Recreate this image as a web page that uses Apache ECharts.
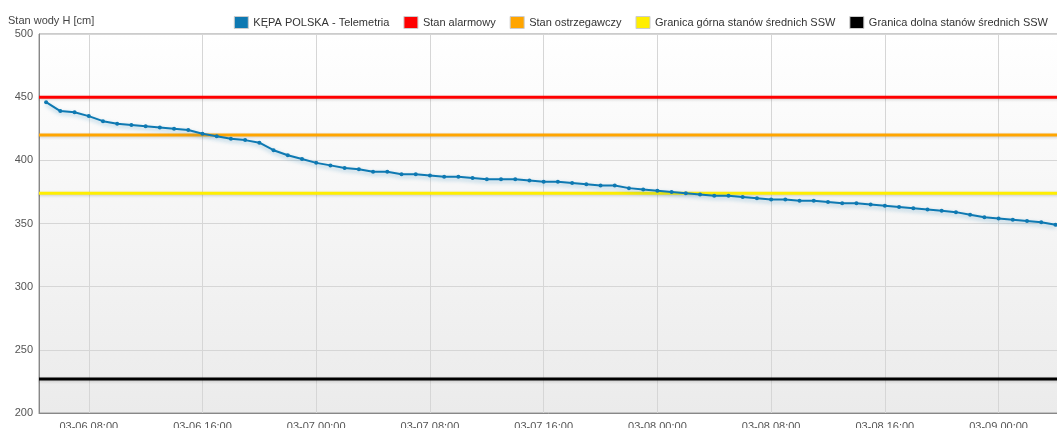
<!DOCTYPE html>
<html>
<head>
<meta charset="utf-8">
<script src="https://cdn.jsdelivr.net/npm/echarts@6/dist/echarts.min.js"></script>
<style>
  html, body { margin: 0; padding: 0; background: #fff; }
  #chart { width: 1057px; height: 428px; }
</style>
</head>
<body>
<div id="chart"></div>
<script>
// hourly readings, first at 03-06 05:00
const startTime = '2024-03-06T05:00:00'
const levels = [
  446, 439, 438, 435, 431, 429, 428, 427, 426, 425, 424, 421, 419, 417, 416, 414, 408, 404, 401,
  398, 396, 394, 393, 391, 391, 389, 389, 388, 387, 387, 386, 385, 385, 385, 384, 383, 383, 382, 381, 380, 380, 378, 377,
  376, 375, 374, 373, 372, 372, 371, 370, 369, 369, 368, 368, 367, 366, 366, 365, 364, 363, 362, 361, 360, 359, 357, 355,
  354, 353, 352, 351, 349
]
const tickTimes = [
  '2024-03-06T08:00:00', '2024-03-06T16:00:00', '2024-03-07T00:00:00', '2024-03-07T08:00:00',
  '2024-03-07T16:00:00', '2024-03-08T00:00:00', '2024-03-08T08:00:00', '2024-03-08T16:00:00',
  '2024-03-09T00:00:00'
]
const thresholdNames = [
  'Stan alarmowy',
  'Stan ostrzegawczy',
  'Granica górna stanów średnich SSW',
  'Granica dolna stanów średnich SSW'
]
const thresholdValues = [450, 420, 374, 227]
const thresholdColors = ['#ff0000', '#ffa500', '#ffee00', '#000000']

const xMin = new Date('2024-03-06T04:30:00').getTime()
const xMax = new Date('2024-03-09T04:15:00').getTime()
const hour = 3600 * 1000
const t0 = new Date(startTime).getTime()
const ticks = tickTimes.map(t => new Date(t).getTime())

const pad = n => (n < 10 ? '0' + n : '' + n)
const fmt = v => {
  const d = new Date(v)
  return pad(d.getMonth() + 1) + '-' + pad(d.getDate()) + ' ' + pad(d.getHours()) + ':' + pad(d.getMinutes())
}

const chart = echarts.init(document.getElementById('chart'))
const font = 'Liberation Sans, Arial, sans-serif'

const thresholdSeries = thresholdNames.map((name, i) => ({
  name,
  type: 'line',
  data: [[xMin, thresholdValues[i]], [xMax, thresholdValues[i]]],
  symbol: 'none',
  silent: true,
  z: 1,
  itemStyle: { color: thresholdColors[i] },
  lineStyle: {
    color: thresholdColors[i],
    width: 3,
    shadowColor: 'rgba(0,0,0,0.18)',
    shadowBlur: 3,
    shadowOffsetY: 1
  }
}))

chart.setOption({
  animation: false,
  textStyle: { fontFamily: font },
  grid: {
    left: 39,
    right: -2,
    top: 34,
    bottom: 15,
    outerBoundsMode: 'none',
    containLabel: false,
    show: true,
    borderColor: '#999',
    borderWidth: 1,
    backgroundColor: new echarts.graphic.LinearGradient(0, 0, 0, 1, [
      { offset: 0, color: '#ffffff' },
      { offset: 1, color: '#ebebeb' }
    ])
  },
  title: {
    text: 'Stan wody H [cm]',
    left: 3,
    top: 10,
    textStyle: { fontSize: 11, fontWeight: 'normal', color: '#444', fontFamily: font }
  },
  legend: {
    right: 4,
    top: 11,
    itemWidth: 14,
    itemHeight: 12,
    itemGap: 14,
    icon: 'rect',
    itemStyle: { borderColor: '#ccc', borderWidth: 1 },
    textStyle: { fontSize: 11, color: '#333', fontFamily: font },
    data: ['KĘPA POLSKA - Telemetria'].concat(thresholdNames)
  },
  xAxis: {
    type: 'value',
    min: xMin,
    max: xMax,
    axisLine: { show: true, lineStyle: { color: '#888' } },
    axisTick: { show: false, customValues: ticks },
    axisLabel: {
      customValues: ticks,
      formatter: v => fmt(v),
      color: '#555',
      fontSize: 11,
      margin: 8
    },
    splitLine: { show: true, lineStyle: { color: '#d6d6d6' } }
  },
  yAxis: {
    type: 'value',
    min: 200,
    max: 500,
    interval: 50,
    axisLine: { show: true, lineStyle: { color: '#888' } },
    axisTick: { show: false },
    axisLabel: { color: '#555', fontSize: 11, margin: 6 },
    splitLine: { lineStyle: { color: '#d6d6d6' } }
  },
  series: [
    {
      name: 'KĘPA POLSKA - Telemetria',
      type: 'line',
      data: levels.map((v, i) => [t0 + i * hour, v]),
      symbol: 'circle',
      symbolSize: 4,
      z: 3,
      itemStyle: { color: '#0e79b2' },
      lineStyle: {
        color: '#0e79b2',
        width: 2,
        shadowColor: 'rgba(14,121,178,0.4)',
        shadowBlur: 4,
        shadowOffsetY: 2
      }
    }
  ].concat(thresholdSeries)
})
</script>
</body>
</html>
